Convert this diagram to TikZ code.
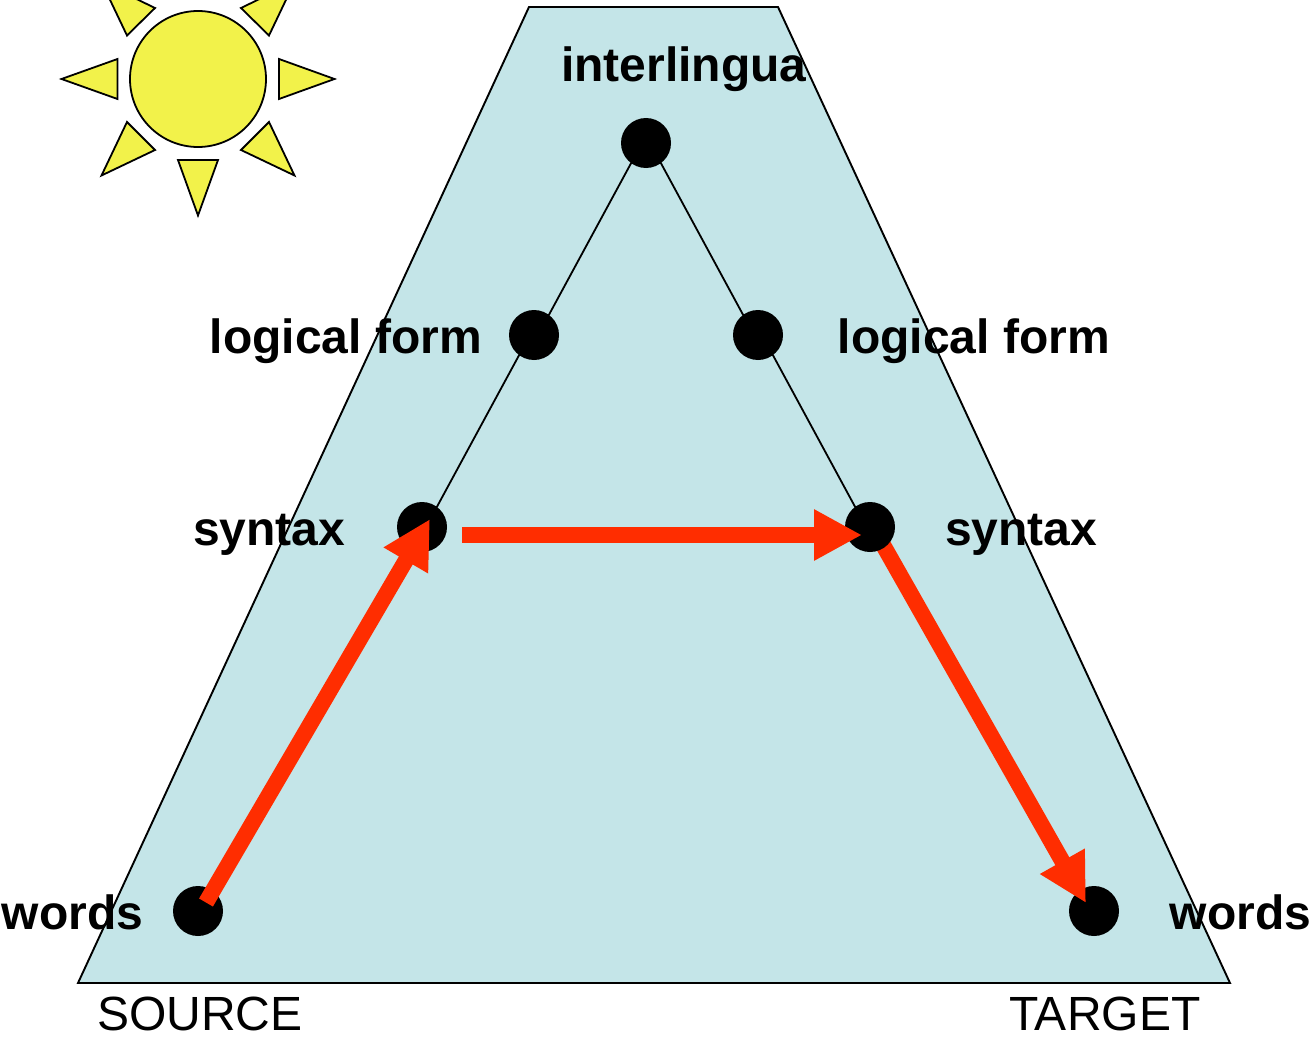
\documentclass[tikz,border=0pt]{standalone}
\usepackage{fontspec}
\setmainfont{Liberation Sans}
\usetikzlibrary{arrows.meta}
\definecolor{panelblue}{HTML}{C4E5E8}
\definecolor{sunyellow}{HTML}{F2F24A}
\definecolor{arrowred}{HTML}{FF2D00}
\tikzset{
  panel/.style={draw=black,line width=1.9pt,fill=panelblue,line join=miter},
  sunpart/.style={draw=black,line width=1.8pt,fill=sunyellow,line join=miter},
  level/.style={circle,fill=black,draw=none,inner sep=0pt,minimum size=50pt},
  link/.style={draw=black,line width=1.8pt},
  route/.style={draw=arrowred,line width=16pt,-{Triangle[width=48pt,length=48pt,fill=arrowred]}},
  boldlabel/.style={font=\fontsize{48}{48}\selectfont\bfseries,anchor=base west,inner sep=0pt,text=black},
  pluslabel/.style={font=\fontsize{48}{48}\selectfont,anchor=base west,inner sep=0pt,text=black}
}
\begin{document}
\begin{tikzpicture}[x=1pt,y=-1pt]
\useasboundingbox (0,0) rectangle (1309,1038);
\clip (0,0) rectangle (1309,1038);
% panel
\draw[panel] (529,7) -- (778,7) -- (1230,983) -- (78,983) -- cycle;
% sun
\draw[sunpart] (198,79) circle[radius=68pt];
\draw[sunpart] (61.5,79) -- (117.5,59) -- (117.5,99) -- cycle;
\draw[sunpart] (334.5,79) -- (279,59) -- (279,99) -- cycle;
\draw[sunpart] (198,215.5) -- (178,160) -- (218,160) -- cycle;
\draw[sunpart] (127,122) -- (155,150) -- (101.5,175.5) -- cycle;
\draw[sunpart] (269,122) -- (241,150) -- (294.5,175.5) -- cycle;
\draw[sunpart] (127,35.5) -- (155,8) -- (101.5,-18) -- cycle;
\draw[sunpart] (269,35.5) -- (241,8) -- (294.5,-18) -- cycle;
% nodes (syntax right is placed later, above the start of the last arrow)
\coordinate (synRc) at (870,527);
\node[level] (apex) at (646,143) {};
\node[level] (lfL) at (534,335) {};
\node[level] (lfR) at (758,335) {};
\node[level] (synL) at (422,527) {};
\node[level] (wdL) at (198,911) {};
\node[level] (wdR) at (1094,911) {};
% thin links (they sit slightly off the dot centres)
\coordinate (apexA) at ([xshift=-4pt]apex.center);
\coordinate (apexB) at ([xshift=4pt]apex.center);
\coordinate (lfLA) at ([xshift=4pt]lfL.center);
\coordinate (lfLB) at ([xshift=-4pt]lfL.center);
\coordinate (lfRA) at ([xshift=-4pt]lfR.center);
\coordinate (lfRB) at ([xshift=4pt]lfR.center);
\coordinate (synLA) at ([xshift=4pt]synL.center);
\coordinate (synRA) at ([xshift=-4pt]synRc);
\draw[link] (apexA) -- (lfLA);
\draw[link] (lfLB) -- (synLA);
\draw[link] (apexB) -- (lfRA);
\draw[link] (lfRB) -- (synRA);
% last arrow runs beneath syntax dot, above words dot
\coordinate (r3s) at (878,536);
\coordinate (r3e) at (1086,903);
\draw[route] (r3s) -- (r3e);
\node[level] (synR) at (synRc) {};
% other arrows
\coordinate (r1s) at (206,902.5);
\coordinate (r1e) at (430,519);
\draw[route] (r1s) -- (r1e);
\coordinate (r2s) at (462,535);
\coordinate (r2e) at (862,535);
\draw[route] (r2s) -- (r2e);
% labels
\node[boldlabel] (tInter) at (561,82) {interlingua};
\node[boldlabel] (tLfL) at (209.5,353) {logical form};
\node[boldlabel] (tLfR) at (837.5,353) {logical form};
\node[boldlabel] (tSynL) at (193,545) {syntax};
\node[boldlabel] (tSynR) at (945,545) {syntax};
\node[boldlabel] (tWdL) at (1.5,929) {words};
\node[boldlabel] (tWdR) at (1169.5,929) {words};
\node[pluslabel] (tSrc) at (97,1030.5) {SOURCE};
\node[pluslabel] (tTgt) at (1009,1030.5) {TARGET};
\end{tikzpicture}
\end{document}
